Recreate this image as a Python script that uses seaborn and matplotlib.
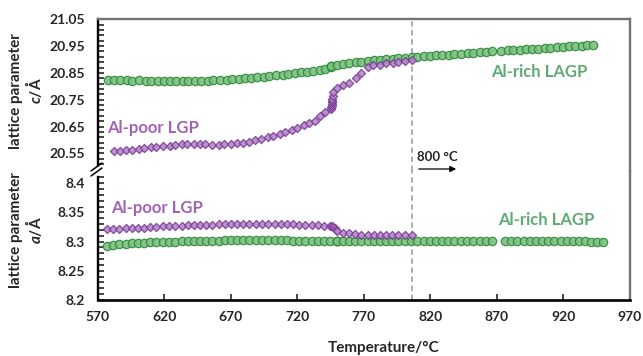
import matplotlib
matplotlib.use("Agg")
import matplotlib.pyplot as plt
from matplotlib.ticker import FixedLocator
import seaborn as sns

# ---- data: lattice parameter c (top) ----
t_c_rich = [577.5, 582, 587, 592, 596, 601, 606, 610, 615, 620, 624, 629, 634, 638, 643, 648,
            653, 657, 662, 667, 671, 676, 681, 685, 690, 695, 699, 704, 709, 713, 718, 723,
            727, 732, 737, 741, 745.6, 745.6, 745.6, 750, 754, 759, 764, 768, 773, 778, 782,
            787, 792, 796, 801, 806, 810, 815, 820, 824, 829, 834, 838, 843, 848, 852, 857,
            862, 866, 873, 878, 882, 887, 892, 896, 901, 906, 910, 915, 920, 924, 929, 934,
            938, 942]
c_rich = [20.823, 20.825, 20.823, 20.822, 20.820, 20.822, 20.821, 20.819, 20.820, 20.819,
          20.819, 20.819, 20.819, 20.820, 20.820, 20.820, 20.821, 20.822, 20.823, 20.824,
          20.826, 20.828, 20.830, 20.832, 20.834, 20.836, 20.839, 20.842, 20.844, 20.846,
          20.849, 20.852, 20.855, 20.858, 20.862, 20.866, 20.872, 20.874, 20.876, 20.880,
          20.884, 20.887, 20.890, 20.892, 20.895, 20.898, 20.900, 20.902, 20.903, 20.905,
          20.907, 20.908, 20.910, 20.912, 20.914, 20.915, 20.917, 20.918, 20.920, 20.922,
          20.924, 20.926, 20.927, 20.929, 20.930, 20.933, 20.934, 20.936, 20.937, 20.939,
          20.940, 20.941, 20.943, 20.944, 20.946, 20.947, 20.949, 20.950, 20.951, 20.953,
          20.955]

t_c_poor = [582, 587, 591, 596, 601, 605, 610, 614, 619, 624, 628, 633, 637, 642, 647, 651,
            656, 661, 665, 670, 675, 679, 684, 688, 693, 698, 702, 707, 711, 716, 720, 725,
            729, 733, 737, 741, 745, 745.5, 745.8, 746, 746, 746.2, 746.3, 746.5, 746.5, 750,
            754, 759, 764, 768, 773, 777, 782, 787, 792, 796, 801, 806]
c_poor = [20.559, 20.560, 20.562, 20.564, 20.566, 20.569, 20.572, 20.575, 20.577, 20.579,
          20.581, 20.583, 20.585, 20.585, 20.586, 20.585, 20.580, 20.582, 20.584, 20.585,
          20.587, 20.589, 20.594, 20.599, 20.605, 20.611, 20.616, 20.623, 20.630, 20.638,
          20.646, 20.656, 20.664, 20.670, 20.690, 20.705, 20.715, 20.722, 20.728, 20.734,
          20.740, 20.746, 20.752, 20.765, 20.780, 20.793, 20.805, 20.812, 20.830, 20.851,
          20.872, 20.879, 20.880, 20.886, 20.888, 20.892, 20.895, 20.900]

# ---- data: lattice parameter a (bottom) ----
t_a_rich = [577, 581.5, 586, 591, 595.5, 600, 605, 609.5, 614, 619, 623.5, 628, 633, 637.5,
            642, 647, 651.5, 656, 661, 665.5, 670, 675, 679.5, 684, 689, 693.5, 698, 703,
            707.5, 712, 717, 721.5, 726, 731, 735.5, 740, 744.5, 749.8, 749.8, 749.8, 754,
            759, 763.5, 768, 773, 777.5, 782, 787, 791.5, 796, 801, 805.5, 810, 815, 819.5,
            824, 829, 833.5, 838, 843, 847.5, 852, 857, 861.5, 866, 876, 880.5, 885, 890,
            894.5, 899, 904, 908.5, 913, 918, 922.5, 927, 932, 936.5, 941, 945, 949.5]
a_rich = [8.2925, 8.2945, 8.2955, 8.2965, 8.2972, 8.2980, 8.2985, 8.2990, 8.2995, 8.2998,
          8.3000, 8.3002, 8.3003, 8.3005, 8.3007, 8.3010, 8.3012, 8.3015, 8.3018, 8.3020,
          8.3022, 8.3024, 8.3025, 8.3026, 8.3026, 8.3025, 8.3025, 8.3024, 8.3022, 8.3020,
          8.3018, 8.3016, 8.3015, 8.3014, 8.3013, 8.3012, 8.3012, 8.3008, 8.3012, 8.3016,
          8.3012, 8.3012, 8.3012, 8.3011, 8.3011, 8.3011, 8.3011, 8.3011, 8.3011, 8.3011,
          8.3011, 8.3011, 8.3011, 8.3011, 8.3011, 8.3011, 8.3011, 8.3011, 8.3011, 8.3011,
          8.3011, 8.3011, 8.3011, 8.3011, 8.3012, 8.3011, 8.3011, 8.3011, 8.3011, 8.3011,
          8.3010, 8.3010, 8.3010, 8.3010, 8.3009, 8.3008, 8.3007, 8.3006, 8.3004, 8.3002,
          8.3000, 8.2990]

t_a_poor = [577, 581.5, 586, 591, 595.5, 600, 605, 609.5, 614, 619, 623.5, 628, 633, 637.5,
            642, 647, 651.5, 656, 661, 665.5, 670, 675, 679.5, 684, 689, 693.5, 698, 703,
            707.5, 712, 717, 721.5, 726, 731, 735.5, 740, 744.5, 746, 747, 748, 749, 750,
            754.5, 759, 763.5, 768, 773, 777.5, 782, 787, 791.5, 796, 801, 806]
a_poor = [8.321, 8.322, 8.322, 8.323, 8.323, 8.324, 8.324, 8.325, 8.325, 8.326, 8.326,
          8.327, 8.327, 8.328, 8.328, 8.328, 8.329, 8.329, 8.330, 8.330, 8.331, 8.331,
          8.331, 8.331, 8.331, 8.331, 8.331, 8.330, 8.330, 8.330, 8.330, 8.329, 8.329,
          8.328, 8.328, 8.327, 8.326, 8.327, 8.325, 8.323, 8.320, 8.318, 8.315, 8.314,
          8.313, 8.312, 8.312, 8.311, 8.311, 8.311, 8.311, 8.311, 8.311, 8.311]

x_ticks = [570, 620, 670, 720, 770, 820, 870, 920, 970]
c_ticks = [20.55, 20.65, 20.75, 20.85, 20.95, 21.05]
a_ticks = [8.2, 8.25, 8.3, 8.35, 8.4]
a_tick_labels = ["8.2", "8.25", "8.3", "8.35", "8.4"]
hold_temp = 806

GREEN_FILL = "#7cc07f"
GREEN_EDGE = "#2e8a3c"
GREEN_TEXT = "#5faa72"
PURPLE_FILL = "#b688c9"
PURPLE_EDGE = "#7b3c97"
PURPLE_TEXT = "#a262b6"
FRAME_GRAY = "#737373"

sns.set_style("ticks")
plt.rcParams["font.family"] = ["Lato", "DejaVu Sans"]
plt.rcParams["font.weight"] = "bold"
plt.rcParams["mathtext.fontset"] = "custom"
plt.rcParams["mathtext.it"] = "Lato:italic:bold"
plt.rcParams["mathtext.rm"] = "Lato:bold"

W, H = 643, 356
fig = plt.figure(figsize=(W / 100, H / 100), dpi=100)
gs = fig.add_gridspec(2, 1, height_ratios=[151.7, 129], hspace=0,
                      left=97.7 / W, right=630 / W, top=1 - 19.3 / H, bottom=1 - 300 / H)
ax_c = fig.add_subplot(gs[0])
ax_a = fig.add_subplot(gs[1], sharex=ax_c)


def px(x, y):
    return x / W, 1 - y / H


def scatter(ax, t, v, marker, fill, edge, size):
    sns.scatterplot(x=t, y=v, ax=ax, marker=marker, s=size, color=fill,
                    edgecolor=edge, linewidth=0.9, alpha=0.9, zorder=3, legend=False)


scatter(ax_c, t_c_rich, c_rich, "o", GREEN_FILL, GREEN_EDGE, 36)
scatter(ax_c, t_c_poor, c_poor, "D", PURPLE_FILL, PURPLE_EDGE, 17)
scatter(ax_a, t_a_rich, a_rich, "o", GREEN_FILL, GREEN_EDGE, 36)
scatter(ax_a, t_a_poor, a_poor, "D", PURPLE_FILL, PURPLE_EDGE, 17)

for ax in (ax_c, ax_a):
    ax.axvline(hold_temp, color="#a8a8a8", ls=(0, (3, 2)), lw=1.3, zorder=1)
    ax.set_xlim(570, 970)
    ax.spines["right"].set_color(FRAME_GRAY)
    ax.spines["right"].set_linewidth(1.7)
    ax.spines["left"].set_linewidth(1.7)
    ax.spines["left"].set_color("black")
    ax.tick_params(axis="y", which="both", direction="in", length=4, width=1.2,
                   labelsize=10, pad=9, right=False)
    ax.set_xlabel("")
    ax.set_ylabel("")

# top panel (c)
ax_c.set_ylim(20.484, 21.05)
ax_c.spines["left"].set_bounds(20.506, 21.05)
ax_c.spines["bottom"].set_visible(False)
ax_c.spines["top"].set_color(FRAME_GRAY)
ax_c.spines["top"].set_linewidth(1.7)
ax_c.yaxis.set_major_locator(FixedLocator(c_ticks))
ax_c.yaxis.set_minor_locator(FixedLocator([20.51 + 0.02 * k for k in range(28)]))
ax_c.set_yticklabels([f"{v:.2f}" for v in c_ticks], fontweight="bold")
ax_c.tick_params(axis="x", which="both", bottom=False, labelbottom=False)

# bottom panel (a)
ax_a.set_ylim(8.2, 8.421)
ax_a.spines["left"].set_bounds(8.2, 8.4106)
ax_a.spines["top"].set_visible(False)
ax_a.spines["bottom"].set_linewidth(1.9)
ax_a.spines["bottom"].set_color("black")
ax_a.yaxis.set_major_locator(FixedLocator(a_ticks))
ax_a.yaxis.set_minor_locator(FixedLocator([8.2 + 0.01 * k for k in range(22)]))
ax_a.set_yticklabels(a_tick_labels, fontweight="bold")
ax_a.set_xticks(x_ticks)
ax_a.set_xticklabels([str(v) for v in x_ticks], fontweight="bold")
ax_a.tick_params(axis="x", which="both", direction="in", length=4, width=1.2,
                 labelsize=10, pad=8)

# series labels
ax_c.text(*px(107, 128), "Al-poor LGP", transform=fig.transFigure, color=PURPLE_TEXT,
          fontsize=12, fontweight="bold", va="center", ha="left")
ax_c.text(*px(491, 72), "Al-rich LAGP", transform=fig.transFigure, color=GREEN_TEXT,
          fontsize=12, fontweight="bold", va="center", ha="left")
ax_a.text(*px(111, 208), "Al-poor LGP", transform=fig.transFigure, color=PURPLE_TEXT,
          fontsize=12, fontweight="bold", va="center", ha="left")
ax_a.text(*px(498, 220), "Al-rich LAGP", transform=fig.transFigure, color=GREEN_TEXT,
          fontsize=12, fontweight="bold", va="center", ha="left")

# hold temperature marker
fig.text(*px(437, 157), "800 °C", fontsize=9.5, fontweight="bold", ha="center", va="center")
fig.add_artist(matplotlib.patches.FancyArrowPatch(
    px(416, 169), px(459, 169), transform=fig.transFigure, arrowstyle="-|>",
    mutation_scale=9, lw=0.9, color="black"))

# axis break marks
for dy in (0, 5):
    fig.add_artist(matplotlib.lines.Line2D(
        [91 / W, 102 / W], [1 - (171 + dy) / H, 1 - (163 + dy) / H],
        transform=fig.transFigure, color="black", lw=1.1))

# axis titles
fig.text(*px(27, 91), "lattice parameter\n$c$/Å", rotation=90, fontsize=11,
         fontweight="bold", ha="center", va="center", multialignment="center",
         linespacing=1.0)
fig.text(*px(27, 230), "lattice parameter\n$a$/Å", rotation=90, fontsize=11,
         fontweight="bold", ha="center", va="center", multialignment="center",
         linespacing=1.0)
fig.text(*px(384, 348), "Temperature/°C", fontsize=11, fontweight="bold",
         ha="center", va="center")

fig.savefig("out.png", dpi=100)
